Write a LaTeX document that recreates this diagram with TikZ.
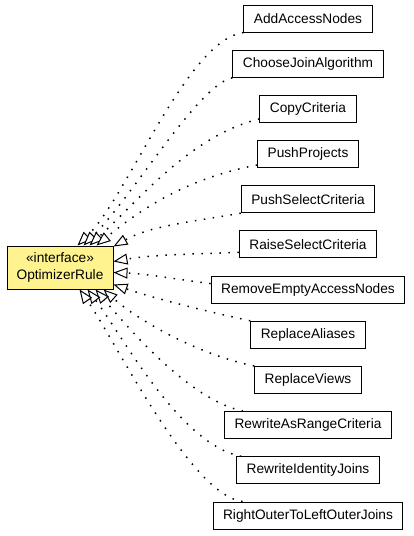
\documentclass[tikz,border=0pt]{standalone}
\usepackage{fontspec}
\setmainfont{Liberation Sans}
\usetikzlibrary{arrows.meta,calc}
\definecolor{ifill}{RGB}{255,243,143}
\tikzset{
  cls/.style={draw=black, line width=1pt, fill=white, minimum height=27pt, inner xsep=10pt, inner ysep=0pt,
    font=\fontsize{13.7}{16}\selectfont},
  iface/.style={draw=black, line width=1pt, fill=ifill, minimum width=106pt, minimum height=43pt, inner sep=0pt,
    align=center, font=\fontsize{13.7}{17}\selectfont},
  impl/.style={line width=1.5pt, dash pattern=on 1.5pt off 7.5pt,
    -{Triangle[length=14pt,width=11pt,fill=white,line width=1pt]}}
}
\begin{document}
\begin{tikzpicture}[x=1pt,y=-1pt]
\useasboundingbox (0,0) rectangle (413,536);
\node[iface] (r) at (60,267.5) {«interface»\\OptimizerRule};
\node[cls] (n1) at (308,18.5) {AddAccessNodes};
\node[cls] (n2) at (308,63.7) {ChooseJoinAlgorithm};
\node[cls] (n3) at (308,108.9) {CopyCriteria};
\node[cls] (n4) at (308,154.0) {PushProjects};
\node[cls] (n5) at (308,199.2) {PushSelectCriteria};
\node[cls] (n6) at (308,244.4) {RaiseSelectCriteria};
\node[cls] (n7) at (308,289.6) {RemoveEmptyAccessNodes};
\node[cls] (n8) at (308,334.8) {ReplaceAliases};
\node[cls] (n9) at (308,380.0) {ReplaceViews};
\node[cls] (n10) at (308,425.1) {RewriteAsRangeCriteria};
\node[cls] (n11) at (308,470.3) {RewriteIdentityJoins};
\node[cls] (n12) at (308,515.5) {RightOuterToLeftOuterJoins};

\draw[impl] (n1.south west) .. controls (187,40) and (128,196) .. ($(r.north west)+(71,0)$);
\draw[impl] (n2.south west) .. controls (198,85) and (133,196) .. ($(r.north west)+(77,0)$);
\draw[impl] ($(n3.south west)+(0,-4)$) .. controls (190,136) and (139,200) .. ($(r.north west)+(83,0)$);
\draw[impl] ($(n4.south west)+(0,-3)$) .. controls (190,178) and (146,205) .. ($(r.north west)+(90,0)$);
\draw[impl] (n5.south west) .. controls (190,222) and (150,226) .. ($(r.north east)+(0,1)$);
\draw[impl] ($(n6.south west)+(0,-6)$) .. controls (190,254) and (150,255) .. ($(r.north east)+(0,16)$);
\draw[impl] ($(n7.north west)+(0,8)$) .. controls (180,280) and (150,274) .. ($(r.north east)+(0,27)$);
\draw[impl] (n8.north west) .. controls (200,310) and (150,297) .. ($(r.north east)+(0,39)$);
\draw[impl] (n9.north west) .. controls (200,355) and (140,322) .. ($(r.south west)+(97,0)$);
\draw[impl] ($(n10.north west)+(19,0)$) .. controls (190,400) and (130,330) .. ($(r.south west)+(89,0)$);
\draw[impl] ($(n11.north west)+(5,0)$) .. controls (180,445) and (122,335) .. ($(r.south west)+(81,0)$);
\draw[impl] ($(n12.north west)+(30,0)$) .. controls (190,495) and (115,340) .. ($(r.south west)+(73,0)$);
\end{tikzpicture}
\end{document}
